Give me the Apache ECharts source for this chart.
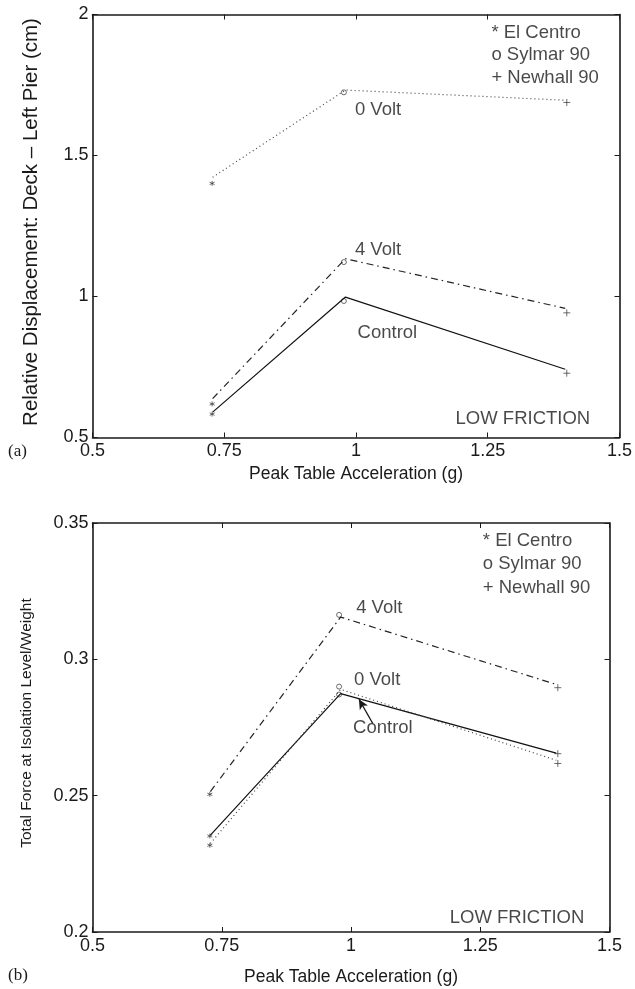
<!DOCTYPE html>
<html lang="en">
<head>
<meta charset="UTF-8">
<script src="https://cdn.jsdelivr.net/npm/echarts/dist/echarts.min.js"></script>
<title>Low friction: displacement and force vs peak table acceleration</title>
<style>
    html, body { margin: 0; padding: 0; background: #fff; }
    #chart { width: 635px; height: 989px; }
</style>
</head>
<body>
<div id="chart"></div>
<script>
// earthquakes (one marker shape each) and peak table accelerations (g)
const quakes = ['El Centro', 'Sylmar 90', 'Newhall 90'];
const lineX = [0.728, 0.980, 1.397];
const markX = [0.727, 0.977, 1.400];

// (a) relative displacement deck - left pier (cm)
const dispCtrlLine = [0.590, 0.998, 0.742];
const dispCtrlMark = [0.583, 0.984, 0.728];
const disp4vLine = [0.638, 1.134, 0.958];
const disp4vMark = [0.619, 1.122, 0.942];
const disp0vLine = [1.423, 1.732, 1.696];
const disp0vMark = [1.401, 1.724, 1.688];

// (b) total force at isolation level / weight
const forceCtrlLine = [0.2355, 0.2874, 0.2656];
const forceCtrlMark = [0.2352, 0.2871, 0.2654];
const force4vLine = [0.2515, 0.3155, 0.2908];
const force4vMark = [0.2505, 0.3163, 0.2896];
const force0vLine = [0.2325, 0.2890, 0.2630];
const force0vMark = [0.2318, 0.2900, 0.2618];

// axis ranges [min, max, interval]
const xTicks = [0.5, 1.5, 0.25];
const dispTicks = [0.5, 2, 0.5];
const forceTicks = [0.2, 0.35, 0.05];

// text annotations (data coords)
const notesA = [
    [0.997, 1.663, '0 Volt'],
    [0.997, 1.164, '4 Volt'],
    [1.002, 0.870, 'Control'],
    [1.188, 0.565, 'LOW FRICTION'],
    [1.256, 1.936, '* ' + quakes[0]],
    [1.256, 1.858, 'o ' + quakes[1]],
    [1.256, 1.776, '+ ' + quakes[2]]
];
const notesB = [
    [1.009, 0.3188, '4 Volt'],
    [1.005, 0.2926, '0 Volt'],
    [1.003, 0.2750, 'Control'],
    [1.190, 0.2050, 'LOW FRICTION'],
    [1.254, 0.3433, '* ' + quakes[0]],
    [1.254, 0.3349, 'o ' + quakes[1]],
    [1.254, 0.3261, '+ ' + quakes[2]]
];
const arrowB = [[1.042, 0.2765], [1.0153, 0.2854]];

const FONT = 'Liberation Sans, Arial, Helvetica, sans-serif';
const SERIF = 'Liberation Serif, Times New Roman, serif';
const INK = '#1a1a1a';
const STAR = 'path://M5,0L5,10M0.7,2.5L9.3,7.5M0.7,7.5L9.3,2.5';
const PLUS = 'path://M0,5L10,5M5,0L5,10';
const quakeSymbols = [STAR, 'circle', PLUS];
const quakeSizes = [5, 5, 7];

const chart = echarts.init(document.getElementById('chart'));

function xAxisFor(grid, top, gap) {
    return {
        type: 'value', gridIndex: grid, position: top ? 'top' : 'bottom',
        min: xTicks[0], max: xTicks[1], interval: xTicks[2],
        axisLine: { show: true, onZero: false, lineStyle: { color: INK, width: 1.6 } },
        axisTick: { show: true, inside: true, length: 5, lineStyle: { color: INK, width: 1 } },
        axisLabel: { show: !top, color: INK, fontSize: 18, fontFamily: FONT, margin: 5 },
        splitLine: { show: false },
        name: top ? '' : 'Peak Table Acceleration (g)',
        nameLocation: 'middle', nameGap: gap,
        nameTextStyle: { color: INK, fontSize: 17.5, fontFamily: FONT }
    };
}

function yAxisFor(grid, right, ticks) {
    return {
        type: 'value', gridIndex: grid, position: right ? 'right' : 'left',
        min: ticks[0], max: ticks[1], interval: ticks[2],
        axisLine: { show: true, onZero: false, lineStyle: { color: INK, width: 1.6 } },
        axisTick: { show: true, inside: true, length: 5, lineStyle: { color: INK, width: 1 } },
        axisLabel: { show: !right, color: INK, fontSize: 18, fontFamily: FONT, margin: 4 },
        splitLine: { show: false }
    };
}

function curve(axis, ys, lineType, color) {
    return {
        type: 'line', xAxisIndex: axis, yAxisIndex: axis,
        data: lineX.map((x, i) => [x, ys[i]]),
        showSymbol: false, symbol: 'none', silent: true,
        lineStyle: { color: color, width: 1.2, type: lineType }
    };
}

function markers(axis, ys) {
    return {
        type: 'scatter', xAxisIndex: axis, yAxisIndex: axis, silent: true,
        data: markX.map((x, i) => ({ value: [x, ys[i]], symbol: quakeSymbols[i], symbolSize: quakeSizes[i] })),
        itemStyle: { color: 'transparent', borderColor: '#333', borderWidth: 0.9 }
    };
}

function notes(axis, list) {
    return {
        type: 'scatter', xAxisIndex: axis, yAxisIndex: axis, silent: true,
        symbolSize: 1, itemStyle: { color: 'transparent' },
        data: list,
        label: {
            show: true, position: 'right', distance: 0,
            formatter: p => p.data[2],
            color: INK, fontSize: 18.5, fontFamily: FONT
        }
    };
}

const dashDot = [7, 4, 1.5, 4];
const dotted = [1, 3];

const option = {
    animation: false,
    backgroundColor: '#fff',
    grid: [
        { left: 92.5, top: 14.5, width: 527, height: 423 },
        { left: 92.5, top: 523, width: 517, height: 409 }
    ],
    xAxis: [xAxisFor(0, false, 28), xAxisFor(0, true, 0), xAxisFor(1, false, 36), xAxisFor(1, true, 0)],
    yAxis: [
        yAxisFor(0, false, dispTicks),
        yAxisFor(0, true, dispTicks),
        yAxisFor(1, false, forceTicks),
        yAxisFor(1, true, forceTicks)
    ],
    graphic: [
        { type: 'text', x: 31, y: 222, rotation: Math.PI / 2,
          style: { text: 'Relative Displacement: Deck \u2013 Left Pier (cm)', fontSize: 20.5, fontFamily: FONT, fill: INK, align: 'center', verticalAlign: 'middle' } },
        { type: 'text', x: 27, y: 723, rotation: Math.PI / 2,
          style: { text: 'Total Force at Isolation Level/Weight', fontSize: 15.5, fontFamily: FONT, fill: INK, align: 'center', verticalAlign: 'middle' } },
        { type: 'text', left: 8, top: 443, style: { text: '(a)', fontSize: 17, fontFamily: SERIF, fill: INK } },
        { type: 'text', left: 8, top: 967, style: { text: '(b)', fontSize: 17, fontFamily: SERIF, fill: INK } }
    ],
    series: [
        curve(0, dispCtrlLine, 'solid', '#111'),
        curve(0, disp4vLine, dashDot, '#222'),
        curve(0, disp0vLine, dotted, '#444'),
        markers(0, dispCtrlMark),
        markers(0, disp4vMark),
        markers(0, disp0vMark),
        notes(0, notesA),
        Object.assign(curve(2, forceCtrlLine, 'solid', '#111'), {
            markLine: {
                silent: true, animation: false,
                symbol: ['none', 'arrow'], symbolSize: [7, 10],
                lineStyle: { color: INK, width: 1.2, type: 'solid' },
                label: { show: false },
                data: [[{ coord: arrowB[0] }, { coord: arrowB[1] }]]
            }
        }),
        curve(2, force4vLine, dashDot, '#222'),
        curve(2, force0vLine, dotted, '#444'),
        markers(2, forceCtrlMark),
        markers(2, force4vMark),
        markers(2, force0vMark),
        notes(2, notesB)
    ]
};

chart.setOption(option);
</script>
</body>
</html>
